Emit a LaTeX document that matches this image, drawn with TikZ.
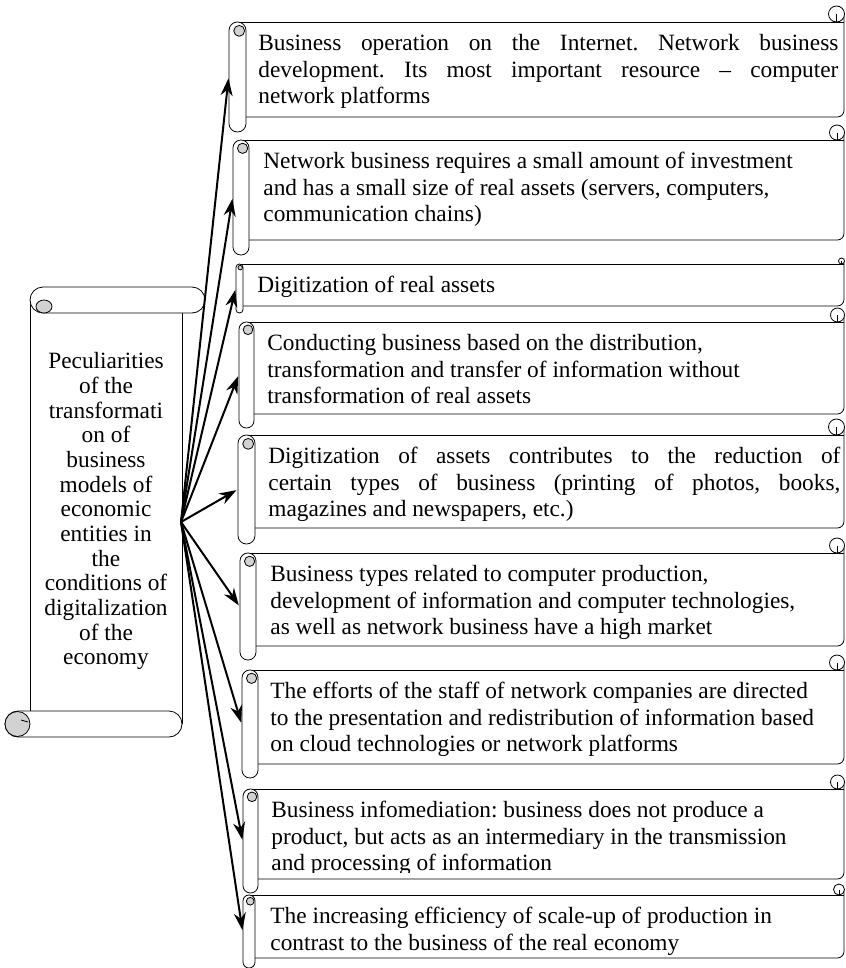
\documentclass[tikz,border=0pt]{standalone}
\usepackage{fontspec}
\setmainfont{Liberation Serif}
\usepackage{tikz}
\usetikzlibrary{arrows.meta}
\frenchspacing

% box with a rolled left edge: [clip y]{name}{left}{roll width}{top}{bottom}{roll end}{text x}{text}
\newcommand{\rollbox}[9][968]{
  \draw (#3+#4/2,#5) -- (844,#5);
  \draw[rounded corners=5pt] (844,#5-#4/2) -- (844,#6) -- (#3+#4,#6);
  \draw[fill=white] (845-#4/2,#5-#4/2+0.5) circle ({#4/2-0.5});
  \draw (845-#4/2,#5-#4/2+0.5) -- (845-#4/2,#5);
  \node[roll,minimum width={#4*0.75pt},minimum height={(#7-#5)*0.75pt},rounded corners={#4*0.37pt}] (#2) at (#3+#4/2,{(#5+#7)/2}) {};
  \draw[fill=gray!35] (#3+#4*0.6,#5+#4*0.52) circle ({#4*0.32});
  \begin{scope}
    \clip (0,#5) rectangle (846,#1);
    \node[txt] (#2t) at (#8,#5+9.3) {\strut #9};
  \end{scope}
}

\begin{document}
\begin{tikzpicture}[x=0.75pt,y=-0.75pt,line width=0.6pt,
  roll/.style={draw,fill=white,inner sep=0pt},
  txt/.style={anchor=north west,inner sep=0pt,align=left,font=\fontsize{17.5}{20}\selectfont},
  link/.style={-{Stealth[length=13pt,width=9pt]},shorten >=1pt,line width=1.5pt}]
%\tikzstyle{every path}=[draw=red]
\useasboundingbox (0,0) rectangle (846,968);

% left scroll
\draw (30,300) -- (30,712);
\draw (182,313) -- (182,724);
\draw[fill=white,rounded corners=9.75pt] (30,287) rectangle (205,313);
\draw[fill=gray!35] (44,306.5) ellipse (8 and 6.5);
\draw[fill=white,rounded corners=9.75pt] (5,711) rectangle (182,737);
\draw[fill=gray!35] (17.5,724) circle (12.5);
\draw (21,720) -- (28,722);
\node[txt,anchor=north,align=center,font=\fontsize{17.5}{18.5}\selectfont] (ltxt) at (106,351) {\strut Peculiarities\\of the\\transformati\\on of\\business\\models of\\economic\\entities in\\the\\conditions of\\digitalization\\of the\\economy};

\rollbox{r1}{229}{17}{22}{117}{132}{258}{\makebox[435pt][s]{Business operation on the Internet. Network business}\\\makebox[435pt][s]{development. Its most important resource -- computer}\\network platforms}
\rollbox{r2}{233}{16}{140}{240}{255}{263}{Network business requires a small amount of investment\\and has a small size of real assets (servers, computers,\\communication chains)}
\rollbox{r3}{236}{7}{264}{306}{313}{257}{Digitization of real assets}
\rollbox{r4}{239}{15}{322}{414}{428}{267}{Conducting business based on the distribution,\\transformation and transfer of information without\\transformation of real assets}
\rollbox{r5}{238}{17}{435}{528}{544}{268}{\makebox[429pt][s]{Digitization of assets contributes to the reduction of}\\\makebox[429pt][s]{certain types of business (printing of photos, books,}\\magazines and newspapers, etc.)}
\rollbox{r6}{240}{16}{553}{646}{660}{270}{Business types related to computer production,\\development of information and computer technologies,\\as well as network business have a high market}
\rollbox{r7}{242}{16}{670}{764}{778}{270}{The efforts of the staff of network companies are directed\\to the presentation and redistribution of information based\\on cloud technologies or network platforms}
\rollbox[872]{r8}{243}{15}{789}{879}{893}{271}{Business infomediation: business does not produce a\\product, but acts as an intermediary in the transmission\\and processing of information}
\rollbox{r9}{243}{12}{895}{958}{968}{270}{The increasing efficiency of scale-up of production in\\contrast to the business of the real economy}

\coordinate (src) at (181,522);
\path[link] (src) edge (r1.west);
\path[link] (src) edge (r2.west);
\path[link] (src) edge (r3.west);
\path[link] (src) edge (r4.west);
\path[link] (src) edge (r5.west);
\path[link] (src) edge (r6.west);
\path[link] (src) edge (r7.west);
\path[link] (src) edge (r8.west);
\path[link] (src) edge (r9.west);
\end{tikzpicture}
\end{document}
